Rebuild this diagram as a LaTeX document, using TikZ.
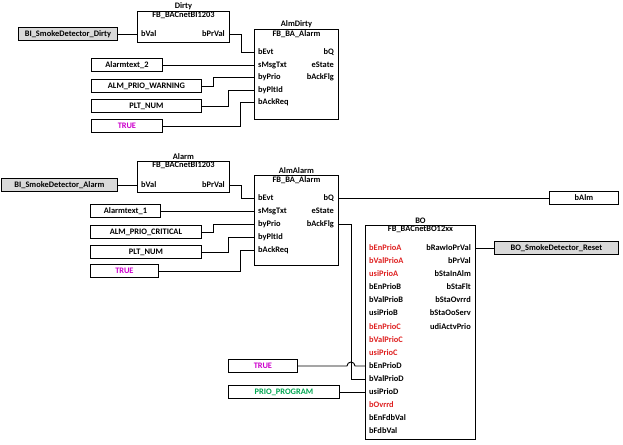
\documentclass[tikz,border=0pt]{standalone}
\usepackage{fontspec}
\setmainfont{Carlito}
\usetikzlibrary{calc}

\definecolor{pinred}{RGB}{222,32,32}
\definecolor{constmag}{RGB}{204,0,204}
\definecolor{constgreen}{RGB}{0,166,80}
\definecolor{ingray}{RGB}{217,217,217}

\begin{document}
\begin{tikzpicture}[
    x=1pt, y=-1pt,
    every node/.style={font=\fontsize{8.4}{10}\selectfont\bfseries},
    fb/.style={rectangle, draw, line width=0.9pt, anchor=north west, inner sep=0},
    fbname/.style={above, inner sep=1.2pt},
    fbtype/.style={below, inner sep=1.2pt},
    pinin/.style={anchor=west, inner xsep=4pt, inner ysep=0},
    pinout/.style={anchor=east, inner xsep=4pt, inner ysep=0},
    var/.style={rectangle, draw, line width=0.9pt, anchor=west, minimum height=13pt, inner sep=0, align=center},
    hwin/.style={var, fill=ingray},
    wire/.style={line width=0.9pt},
    prio/.style={text=pinred}
]
\useasboundingbox (0,0) rectangle (623,444);

% Dirty path
\node[fb, minimum width=92pt, minimum height=31pt] (dirty) at (137,11) {};
\node[fbname] (dirty-name) at (dirty.north) {Dirty};
\node[fbtype] (dirty-type) at (dirty.north) {FB\_BACnetBI1203};
\node[pinin] (dirty-bval) at (137,34) {bVal};
\node[pinout] (dirty-bprval) at (229,34) {bPrVal};

\node[hwin, minimum width=99pt] (bidirty) at (18,34) {BI\_SmokeDetector\_Dirty};

\node[fb, minimum width=84pt, minimum height=90pt] (almdirty) at (254,29) {};
\node[fbname] (almdirty-name) at (almdirty.north) {AlmDirty};
\node[fbtype] (almdirty-type) at (almdirty.north) {FB\_BA\_Alarm};
\node[pinin] (ad-bevt) at (254,52) {bEvt};
\node[pinin] (ad-smsgtxt) at (254,65) {sMsgTxt};
\node[pinin] (ad-byprio) at (254,77) {byPrio};
\node[pinin] (ad-bypltid) at (254,90) {byPltId};
\node[pinin] (ad-backreq) at (254,102) {bAckReq};
\node[pinout] (ad-bq) at (338,52) {bQ};
\node[pinout] (ad-estate) at (338,65) {eState};
\node[pinout] (ad-backflg) at (338,77) {bAckFlg};

\node[var, minimum width=71pt] (txt2) at (91,65) {Alarmtext\_2};
\node[var, minimum width=110pt] (prio2) at (91,86) {ALM\_PRIO\_WARNING};
\node[var, minimum width=110pt] (plt2) at (91,106) {PLT\_NUM};
\node[var, minimum width=71pt, text=constmag] (true2) at (91,126) {TRUE};

% Dirty wires
\draw[wire] (bidirty.east) -- (dirty-bval.west);
\draw[wire] (dirty-bprval.east) -- ++(12,0) |- (ad-bevt.west);
\draw[wire] (txt2.east) -- (ad-smsgtxt.west);
\draw[wire] (prio2.east) -- ++(12,0) |- (ad-byprio.west);
\draw[wire] (plt2.east) -- ++(27,0) |- (ad-bypltid.west);
\draw[wire] (true2.east) -- ++(78,0) |- (ad-backreq.west);

% Alarm path
\node[fb, minimum width=92pt, minimum height=31pt] (alarm) at (137,161) {};
\node[fbname] (alarm-name) at (alarm.north) {Alarm};
\node[fbtype] (alarm-type) at (alarm.north) {FB\_BACnetBI1203};
\node[pinin] (alarm-bval) at (137,185) {bVal};
\node[pinout] (alarm-bprval) at (229,185) {bPrVal};

\node[hwin, minimum width=116pt] (bialarm) at (1,185) {BI\_SmokeDetector\_Alarm};

\node[fb, minimum width=84pt, minimum height=90pt] (almalarm) at (254,175) {};
\node[fbname] (almalarm-name) at (almalarm.north) {AlmAlarm};
\node[fbtype] (almalarm-type) at (almalarm.north) {FB\_BA\_Alarm};
\node[pinin] (aa-bevt) at (254,198) {bEvt};
\node[pinin] (aa-smsgtxt) at (254,211) {sMsgTxt};
\node[pinin] (aa-byprio) at (254,224) {byPrio};
\node[pinin] (aa-bypltid) at (254,237) {byPltId};
\node[pinin] (aa-backreq) at (254,250) {bAckReq};
\node[pinout] (aa-bq) at (338,198) {bQ};
\node[pinout] (aa-estate) at (338,211) {eState};
\node[pinout] (aa-backflg) at (338,224) {bAckFlg};

\node[var, minimum width=70pt] (txt1) at (90,211) {Alarmtext\_1};
\node[var, minimum width=111pt] (prio1) at (90,232) {ALM\_PRIO\_CRITICAL};
\node[var, minimum width=111pt] (plt1) at (90,252) {PLT\_NUM};
\node[var, minimum width=68pt, text=constmag] (true1) at (90,271) {TRUE};

\node[var, minimum width=69pt] (balm) at (549,198) {bAlm};

% Binary output
\node[fb, minimum width=110pt, minimum height=214pt] (bo) at (365,225) {};
\node[fbname] (bo-name) at (bo.north) {BO};
\node[fbtype] (bo-type) at (bo.north) {FB\_BACnetBO12xx};
\node[pinin, prio] (bo-benprioa) at (365,248) {bEnPrioA};
\node[pinin, prio] (bo-bvalprioa) at (365,261) {bValPrioA};
\node[pinin, prio] (bo-usiprioa) at (365,274) {usiPrioA};
\node[pinin] (bo-benpriob) at (365,287) {bEnPrioB};
\node[pinin] (bo-bvalpriob) at (365,300) {bValPrioB};
\node[pinin] (bo-usipriob) at (365,313) {usiPrioB};
\node[pinin, prio] (bo-benprioc) at (365,327) {bEnPrioC};
\node[pinin, prio] (bo-bvalprioc) at (365,340) {bValPrioC};
\node[pinin, prio] (bo-usiprioc) at (365,353) {usiPrioC};
\node[pinin] (bo-benpriod) at (365,366) {bEnPrioD};
\node[pinin] (bo-bvalpriod) at (365,379) {bValPrioD};
\node[pinin] (bo-usipriod) at (365,392) {usiPrioD};
\node[pinin, prio] (bo-bovrrd) at (365,405) {bOvrrd};
\node[pinin] (bo-benfdbval) at (365,418) {bEnFdbVal};
\node[pinin] (bo-bfdbval) at (365,431) {bFdbVal};
\node[pinout] (bo-brawioprval) at (475,248) {bRawIoPrVal};
\node[pinout] (bo-bprval) at (475,261) {bPrVal};
\node[pinout] (bo-bstainalm) at (475,274) {bStaInAlm};
\node[pinout] (bo-bstaflt) at (475,287) {bStaFlt};
\node[pinout] (bo-bstaovrrd) at (475,300) {bStaOvrrd};
\node[pinout] (bo-bstaooserv) at (475,313) {bStaOoServ};
\node[pinout] (bo-udiactvprio) at (475,327) {udiActvPrio};

\node[hwin, minimum width=124pt] (boreset) at (494,248) {BO\_SmokeDetector\_Reset};
\node[var, minimum width=69pt, text=constmag] (true3) at (228,366) {TRUE};
\node[var, minimum width=111pt, text=constgreen] (prioprog) at (228,392) {PRIO\_PROGRAM};

% Alarm wires
\draw[wire] (bialarm.east) -- (alarm-bval.west);
\draw[wire] (alarm-bprval.east) -- ++(12,0) |- (aa-bevt.west);
\draw[wire] (txt1.east) -- (aa-smsgtxt.west);
\draw[wire] (prio1.east) -- ++(12,0) |- (aa-byprio.west);
\draw[wire] (plt1.east) -- ++(27,0) |- (aa-bypltid.west);
\draw[wire] (true1.east) -- ++(82,0) |- (aa-backreq.west);
\draw[wire] (aa-bq.east) -- (balm.west);
\draw[wire] (bo-brawioprval.east) -- (boreset.west);

% Feedback to BO, with line hop
\coordinate (jog) at ($(aa-backflg.east)+(13,0)$);
\coordinate (hop) at (jog |- true3.east);
\draw[wire] (aa-backflg.east) -- (jog) |- (bo-bvalpriod.west);
\draw[wire] (true3.east) -- ([xshift=-4pt]hop) arc[start angle=180, end angle=0, radius=4pt] -- (bo-benpriod.west);
\draw[wire] (prioprog.east) -- (bo-usipriod.west);

\end{tikzpicture}
\end{document}
